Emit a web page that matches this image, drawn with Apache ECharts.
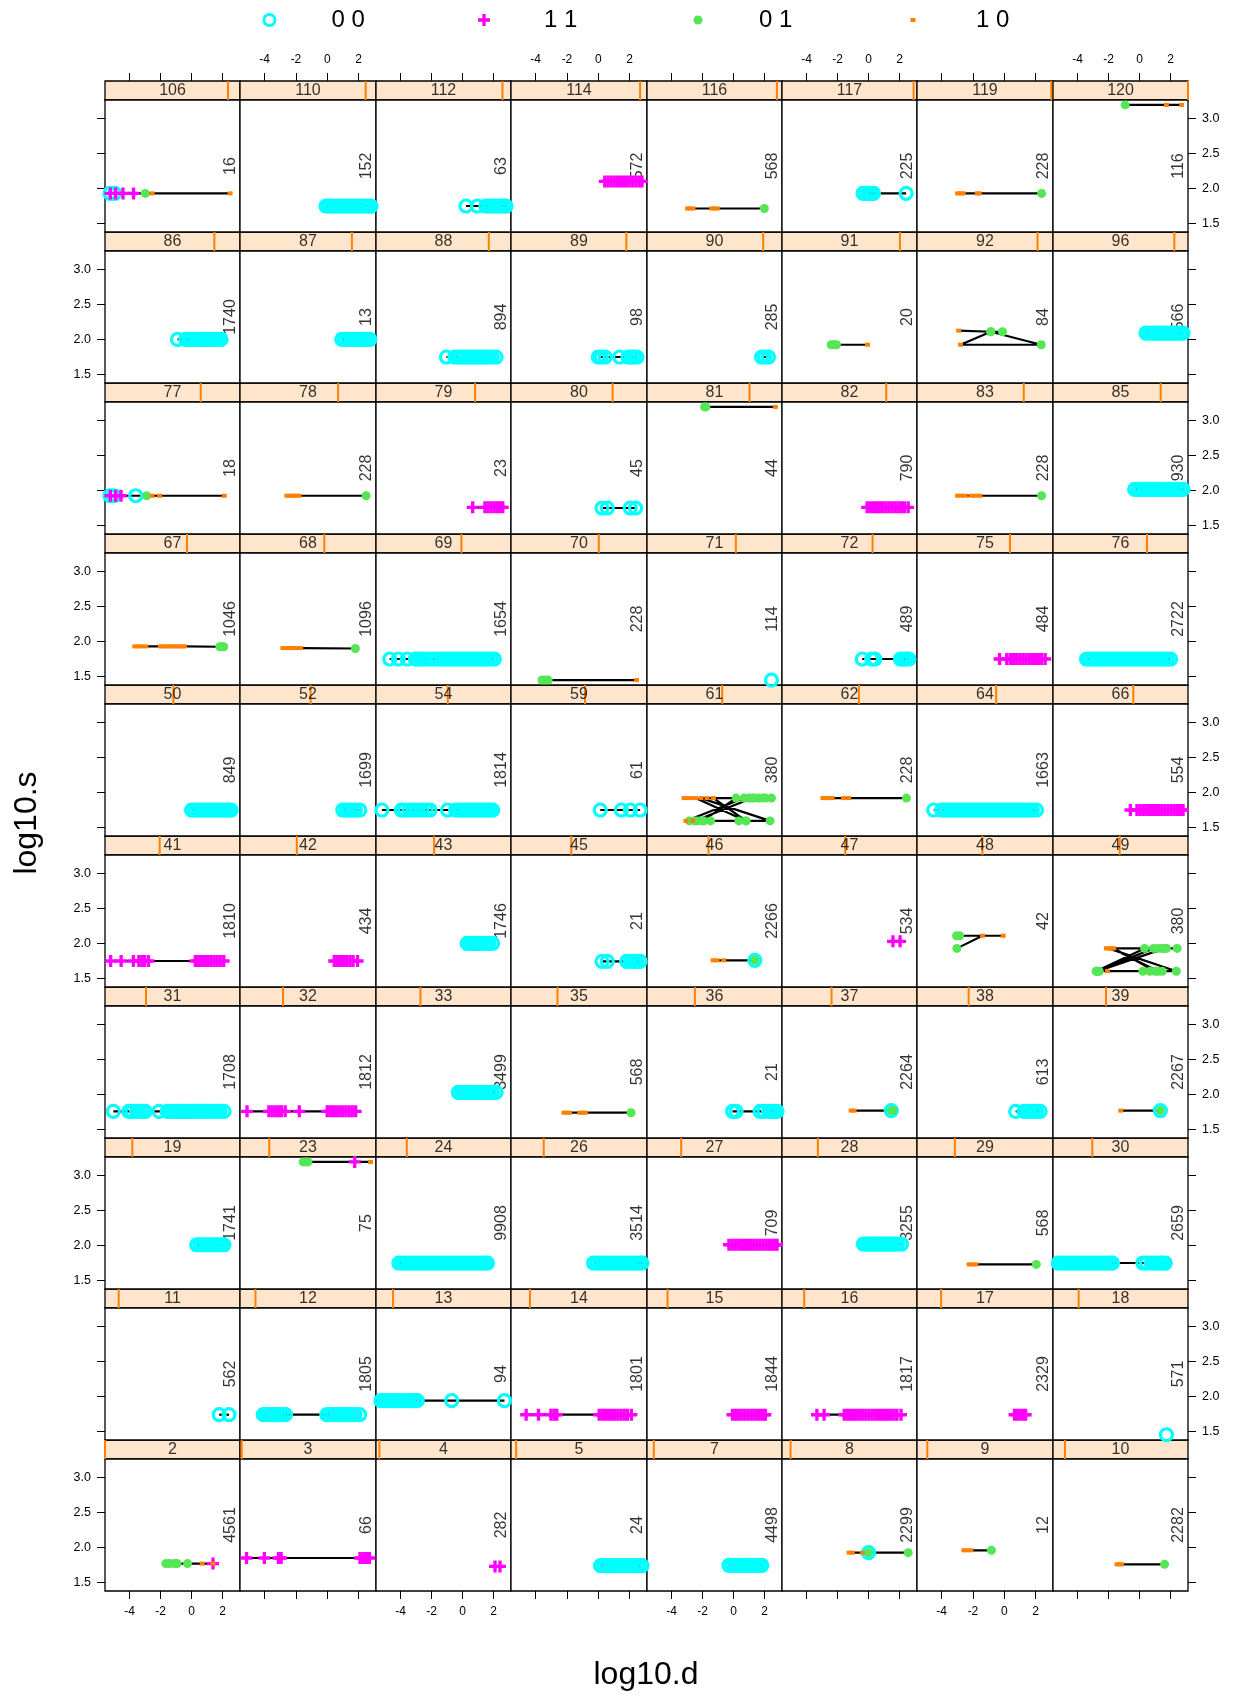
<!DOCTYPE html>
<html><head><meta charset="utf-8">
<script src="https://cdn.jsdelivr.net/npm/echarts@6/dist/echarts.min.js"></script>
<style>html,body{margin:0;padding:0;background:#fff}#c{width:1236px;height:1697px}</style>
</head><body><div id="c"></div>
<script>
// ---- data ----
const panelIds = [2,3,4,5,7,8,9,10, 11,12,13,14,15,16,17,18, 19,23,24,26,27,28,29,30, 31,32,33,35,36,37,38,39,
  41,42,43,45,46,47,48,49, 50,52,54,59,61,62,64,66, 67,68,69,70,71,72,75,76, 77,78,79,80,81,82,83,85,
  86,87,88,89,90,91,92,96, 106,110,112,114,116,117,119,120];
const panelCounts = [4561,66,282,24,4498,2299,12,2282, 562,1805,94,1801,1844,1817,2329,571, 1741,75,9908,3514,709,3255,568,2659,
  1708,1812,3499,568,21,2264,613,2267, 1810,434,1746,21,2266,534,42,380, 849,1699,1814,61,380,228,1663,554,
  1046,1096,1654,228,114,489,484,2722, 18,228,23,45,44,790,228,930, 1740,13,894,98,285,20,84,566, 16,152,63,572,568,225,228,116];
const groupNames = ['0 0','1 1','0 1','1 0'];
const xTicks = [-4,-2,0,2];
const yTicks = [1.5,2.0,2.5,3.0];
// each panel: runs of [group, log10.s, [log10.d ...]] in drawing (line) order
const p2 = [[2,1.77,[-1.66,-1.4,-1.1,-0.93,-0.26]],[3,1.77,[0.68]],[1,1.77,[1.38]],[3,1.77,[1.38]]];
const p3 = [[1,1.85,[-5.16,-4.02,-3.12,-2.95,2.1,2.3,2.5,2.7]]];
const p4 = [[1,1.73,[2.09,2.41]]];
const p5 = [[0,1.74,[0.15,0.35,0.55,0.75,0.95,1.15,1.35,1.55,1.75,1.95,2.15,2.35,2.55,2.75,2.8]]];
const p7 = [[0,1.745,[-0.3,-0.1,0.1,0.3,0.5,0.7,0.9,1.1,1.3,1.5,1.7,1.82]]];
const p8 = [[3,1.926,[-1.25,-1.05,-0.4]],[0,1.926,[0.0]],[2,1.926,[0.0,2.55]]];
const p9 = [[3,1.96,[-2.58,-2.4,-2.13]],[2,1.96,[-0.82]]];
const p10 = [[3,1.76,[-1.45,-1.3,-1.17]],[2,1.76,[1.61]]];
const p11 = [[0,1.74,[1.78,2.41]]];
const p12 = [[0,1.74,[-4.09,-3.89,-3.69,-3.49,-3.29,-3.09,-2.89,-2.67,-0.03,0.17,0.37,0.57,0.77,0.97,1.17,1.37,1.57,1.77,2.07]]];
const p13 = [[0,1.94,[-5.26,-5.06,-4.86,-4.66,-4.46,-4.26,-4.06,-3.86,-3.66,-3.46,-3.26,-3.06,-2.92,-0.7,2.7]]];
const p14 = [[1,1.74,[-4.61,-3.82,-3.03,-2.83,-2.65,0.06,0.26,0.46,0.66,0.86,1.06,1.26,1.46,1.66,1.86,2.12]]];
const p15 = [[1,1.74,[-0.07,0.13,0.33,0.53,0.73,0.93,1.13,1.33,1.53,1.73,1.93,2.05]]];
const p16 = [[1,1.74,[-3.33,-2.87,-1.57,-1.37,-1.17,-0.97,-0.77,-0.57,-0.37,-0.17,0.03,0.23,0.43,0.63,0.83,1.03,1.23,1.43,1.63,1.83,2.09]]];
const p17 = [[1,1.74,[0.66,0.86,1.06,1.22,1.37]]];
const p18 = [[0,1.455,[1.73]]];
const p19 = [[0,2.01,[0.33,0.53,0.73,0.93,1.13,1.33,1.53,1.73,1.93,2.09]]];
const p23 = [[2,3.19,[-1.54,-1.38,-1.23]],[1,3.19,[1.76]],[3,3.19,[2.77]]];
const p24 = [[0,1.75,[-4.11,-3.91,-3.71,-3.51,-3.31,-3.11,-2.91,-2.71,-2.51,-2.31,-2.11,-1.91,-1.71,-1.51,-1.31,-1.11,-0.91,-0.71,-0.51,-0.31,-0.11,0.09,0.29,0.49,0.69,0.89,1.09,1.29,1.49,1.6]]];
const p26 = [[0,1.75,[-0.3,-0.1,0.1,0.3,0.5,0.7,0.9,1.1,1.3,1.5,1.7,1.9,2.1,2.3,2.5,2.7,2.8]]];
const p27 = [[1,2.01,[-0.3,-0.1,0.1,0.3,0.5,0.7,0.9,1.1,1.3,1.5,1.7,1.9,2.1,2.3,2.5,2.7,2.8]]];
const p28 = [[0,2.02,[-0.34,-0.14,0.06,0.26,0.46,0.66,0.86,1.06,1.26,1.46,1.66,1.86,2.12]]];
const p29 = [[3,1.73,[-2.25,-2.05,-1.82]],[2,1.73,[2.05]]];
const p30 = [[0,1.75,[-5.24,-5.04,-4.84,-4.64,-4.44,-4.24,-4.04,-3.84,-3.64,-3.44,-3.24,-3.04,-2.84,-2.64,-2.44,-2.24,-2.04,-1.84,-1.75,0.21,0.45,0.75,0.95,1.15,1.35,1.5,1.66]]];
const p31 = [[0,1.76,[-5.04,-4.05,-3.84,-3.55,-3.35,-3.15,-2.98,-2.1,-1.57,-1.37,-1.17,-0.97,-0.77,-0.57,-0.37,-0.17,0.03,0.23,0.43,0.63,0.83,1.03,1.23,1.43,1.63,1.83,2.09]]];
const p32 = [[1,1.76,[-5.13,-3.73,-3.53,-3.33,-3.13,-2.93,-2.69,-1.79,0.0,0.2,0.4,0.6,0.8,1.0,1.2,1.4,1.6,1.82]]];
const p33 = [[0,2.03,[-0.28,-0.08,0.12,0.32,0.52,0.72,0.92,1.12,1.32,1.52,1.72,1.92,2.16]]];
const p35 = [[3,1.74,[-2.19,-2.0,-1.83,-1.18,-1.0,-0.82]],[2,1.74,[2.1]]];
const p36 = [[0,1.76,[-0.07,0.16,1.71,1.96,2.25,2.45,2.65,2.8]]];
const p37 = [[3,1.77,[-1.12,-0.93]],[0,1.77,[1.46]],[2,1.77,[1.46,1.56]]];
const p38 = [[0,1.76,[0.73,1.26,1.46,1.66,1.86,2.06,2.3]]];
const p39 = [[3,1.77,[-1.21]],[0,1.77,[1.34]],[2,1.77,[1.34]]];
const p41 = [[1,1.75,[-5.22,-4.54,-3.75,-3.4,-3.2,-3.03,-2.78,0.24,0.44,0.64,0.84,1.04,1.24,1.44,1.64,1.84,2.07]]];
const p42 = [[1,1.75,[0.45,0.65,0.85,1.05,1.25,1.45,1.65,1.94]]];
const p43 = [[0,2.0,[0.29,0.49,0.69,0.89,1.09,1.29,1.49,1.69,1.94]]];
const p45 = [[0,1.745,[0.24,0.58,1.82,2.05,2.25,2.45,2.68]]];
const p46 = [[3,1.76,[-1.32,-1.07,-0.64]],[0,1.76,[1.37]],[2,1.76,[1.37]]];
const p47 = [[1,2.03,[1.57,2.03]]];
const p48 = [[2,1.93,[-3.03]],[3,2.11,[-1.39,-0.07]],[2,2.11,[-2.85,-3.05]]];
const p49 = [[3,1.93,[-2.14,-1.9,-1.66]],[2,1.605,[1.0,0.21]],[3,1.605,[-2.07]],[2,1.605,[-2.6,-2.8]],
  [2,1.93,[0.32,1.19,1.45,1.73,2.42]],[3,1.93,[-2.0]],[2,1.605,[2.37,1.46,0.66,-2.7]],[2,1.93,[1.6]],
  [3,1.93,[-1.8]],[2,1.605,[1.2,-2.75]],[2,1.93,[0.9]]];
const p50 = [[0,1.75,[0.0,0.2,0.4,0.6,0.8,1.0,1.2,1.4,1.6,1.8,2.0,2.2,2.4,2.55]]];
const p52 = [[0,1.75,[0.99,1.2,1.4,1.6,1.8,2.08]]];
const p54 = [[0,1.75,[-5.2,-3.95,-3.73,-3.45,-3.2,-2.9,-2.62,-2.35,-2.1,-0.97,-0.45,-0.25,-0.05,0.15,0.35,0.55,0.75,0.95,1.15,1.35,1.55,1.75,1.94]]];
const p59 = [[0,1.75,[0.13,1.48,2.05,2.68]]];
const p61 = [[3,1.92,[-3.19,-2.95,-2.7,-2.45]],[2,1.595,[0.8,0.34,-1.48,-1.9,-2.3]],[3,1.595,[-2.62]],[2,1.595,[-2.85]],
  [3,1.595,[-3.07]],[2,1.92,[0.68,1.0,1.3,1.6,1.85,2.05,2.44]],[3,1.92,[-2.1]],[2,1.595,[2.35,-2.0]],
  [2,1.92,[0.16]],[3,1.92,[-1.71,-1.3]],[2,1.595,[0.8,-2.5]],[2,1.92,[1.2]]];
const p62 = [[3,1.92,[-2.94,-2.74,-2.54,-2.35,-1.62,-1.28]],[2,1.92,[2.44]]];
const p64 = [[0,1.75,[-4.51,-4.0,-3.8,-3.6,-3.4,-3.2,-3.0,-2.8,-2.6,-2.4,-2.2,-2.0,-1.8,-1.6,-1.4,-1.2,-1.0,-0.8,-0.6,-0.4,-0.2,0.0,0.2,0.4,0.6,0.8,1.0,1.2,1.4,1.6,1.8,2.07]]];
const p66 = [[1,1.75,[-0.59,-0.17,0.03,0.23,0.43,0.63,0.83,1.03,1.23,1.43,1.63,1.83,2.03,2.23,2.43,2.63,2.8]]];
const p67 = [[3,1.93,[-3.66,-3.45,-3.25,-2.95,-2.01,-1.81,-1.61,-1.41,-1.21,-1.01,-0.81,-0.61,-0.46]],[2,1.925,[1.82,1.95,2.07]]];
const p68 = [[3,1.906,[-2.83,-2.63,-2.43,-2.23,-2.01,-1.7]],[2,1.9,[1.8]]];
const p69 = [[0,1.75,[-4.7,-4.14,-3.57,-3.05,-2.85,-2.65,-2.45,-2.15,-1.88,-1.6,-1.35,-1.15,-0.95,-0.75,-0.55,-0.35,-0.15,0.05,0.25,0.45,0.65,0.85,1.05,1.25,1.45,1.65,1.85,2.05]]];
const p70 = [[2,1.45,[-3.6,-3.4,-3.2]],[3,1.45,[2.45]]];
const p71 = [[0,1.45,[2.44]]];
const p72 = [[0,1.75,[-0.41,0.2,0.4,2.05,2.25,2.45,2.6]]];
const p75 = [[1,1.75,[-0.3,0.16,0.39,0.6,0.8,1.0,1.2,1.4,1.6,1.8,2.0,2.2,2.4,2.62]]];
const p76 = [[0,1.75,[-3.42,-3.22,-3.02,-2.82,-2.62,-2.42,-2.22,-2.02,-1.82,-1.62,-1.42,-1.22,-1.02,-0.82,-0.62,-0.42,-0.22,-0.02,0.18,0.38,0.58,0.78,0.98,1.18,1.38,1.58,1.78,2.0]]];
const p77 = [[0,1.925,[-5.26,-5.0]],[1,1.925,[-5.23,-4.89,-4.55]],[0,1.925,[-3.6]],[2,1.925,[-2.9]],[3,1.925,[-2.56,-2.06,2.11]]];
const p78 = [[3,1.925,[-2.58,-2.4,-2.2,-2.0,-1.8]],[2,1.925,[2.49]]];
const p79 = [[1,1.76,[0.65,1.44,1.64,1.84,2.04,2.24,2.44,2.59]]];
const p80 = [[0,1.75,[0.24,0.58,2.05,2.39]]];
const p81 = [[2,3.19,[-1.87,-1.78]],[3,3.19,[2.69]]];
const p82 = [[1,1.76,[-0.09,0.11,0.31,0.51,0.71,0.91,1.11,1.31,1.51,1.71,1.91,2.11,2.31,2.55]]];
const p83 = [[3,1.925,[-2.98,-2.75,-2.5,-2.12,-1.85,-1.55]],[2,1.925,[2.39]]];
const p85 = [[0,2.016,[-0.32,-0.12,0.08,0.28,0.48,0.68,0.88,1.08,1.28,1.48,1.68,1.88,2.08,2.28,2.48,2.68,2.8]]];
const p86 = [[0,2.0,[-0.91,-0.38,-0.18,0.02,0.22,0.42,0.62,0.82,1.02,1.22,1.42,1.62,1.82,1.9]]];
const p87 = [[0,2.0,[0.93,1.13,1.33,1.53,1.73,1.93,2.13,2.33,2.53,2.73]]];
const p88 = [[0,1.75,[-1.04,-0.5,-0.3,-0.1,0.1,0.3,0.5,0.7,0.9,1.1,1.3,1.5,1.7,1.9,2.16]]];
const p89 = [[0,1.75,[0.0,0.2,0.45,1.37,1.9,2.1,2.3,2.48]]];
const p90 = [[0,1.75,[1.8,2.0,2.25]]];
const p91 = [[2,1.925,[-2.41,-2.24,-2.07]],[3,1.925,[-0.07]]];
const p92 = [[3,2.126,[-2.91]],[2,2.11,[-0.86]],[3,1.925,[-2.8]],[2,1.925,[2.37]],[2,2.11,[-0.86,-0.11]]];
const p96 = [[0,2.09,[0.41,0.61,0.81,1.01,1.21,1.41,1.61,1.81,2.01,2.21,2.41,2.61,2.8]]];
const p106 = [[0,1.93,[-5.26]],[1,1.93,[-5.23]],[0,1.93,[-4.95]],[1,1.93,[-4.89,-4.42,-3.74]],[2,1.93,[-2.99]],[3,1.93,[-2.54,2.48]]];
const p110 = [[0,1.75,[-0.08,0.12,0.32,0.52,0.72,0.92,1.12,1.32,1.52,1.72,1.92,2.12,2.32,2.52,2.72,2.8]]];
const p112 = [[0,1.75,[0.22,0.96,1.5,1.7,1.9,2.1,2.3,2.5,2.7,2.8]]];
const p114 = [[1,2.10,[0.42,0.62,0.82,1.02,1.22,1.42,1.62,1.82,2.02,2.22,2.42,2.62,2.8]]];
const p116 = [[3,1.715,[-2.96,-2.79,-2.62,-1.41,-1.23,-1.05]],[2,1.715,[1.98]]];
const p117 = [[0,1.93,[-0.36,-0.16,0.04,0.22,0.32,2.42]]];
const p119 = [[3,1.93,[-2.98,-2.8,-2.62,-1.73,-1.6]],[2,1.93,[2.39]]];
const p120 = [[2,3.19,[-0.93]],[3,3.19,[1.73,2.71]]];
const panelRuns = [p2,p3,p4,p5,p7,p8,p9,p10, p11,p12,p13,p14,p15,p16,p17,p18, p19,p23,p24,p26,p27,p28,p29,p30,
  p31,p32,p33,p35,p36,p37,p38,p39, p41,p42,p43,p45,p46,p47,p48,p49, p50,p52,p54,p59,p61,p62,p64,p66,
  p67,p68,p69,p70,p71,p72,p75,p76, p77,p78,p79,p80,p81,p82,p83,p85, p86,p87,p88,p89,p90,p91,p92,p96,
  p106,p110,p112,p114,p116,p117,p119,p120];

// ---- layout / style ----
const NCOL = 8, NROW = 10, N = panelIds.length;
const L0 = 105, T0 = 80.7, W = 1083, H = 1510, STRIP_H = 19.3;
const colW = W / NCOL, rowH = H / NROW;
const X_MIN = -5.58, X_MAX = 3.12, Y_MIN = 1.38, Y_MAX = 3.26;
const PLUS = 'path://M13,0H23V13H36V23H23V36H13V23H0V13H13Z';
const gStyle = [
  {symbol:'circle', symbolSize:12, itemStyle:{color:'rgba(0,0,0,0)', borderColor:'#00FFFF', borderWidth:3.2, opacity:1}},
  {symbol:PLUS, symbolSize:12, itemStyle:{color:'#FF00FF', opacity:1}},
  {symbol:'circle', symbolSize:9, itemStyle:{color:'#55E655', opacity:1}},
  {symbol:'rect', symbolSize:[5,4], itemStyle:{color:'#FF7F00', opacity:1}}
];
const FONT = "'Liberation Sans', Arial, Helvetica, sans-serif";

const grids = [], xAxes = [], yAxes = [], series = [];
const tickStyle = {color:'#000', width:1};
panelIds.forEach((id, k) => {
  const c = k % NCOL, r = NROW - 1 - Math.floor(k / NCOL);
  const left = Math.round(L0 + c * colW), right = Math.round(L0 + (c + 1) * colW);
  const top = Math.round(T0 + r * rowH), bottom = Math.round(T0 + (r + 1) * rowH);
  const sb = Math.round(T0 + r * rowH + STRIP_H);
  // strip
  const gs = grids.length;
  grids.push({left, top, width:right-left, height:sb-top, show:true, backgroundColor:'#FFE5CC', borderColor:'#000', borderWidth:1.3});
  const xs = xAxes.length; xAxes.push({gridIndex:gs, type:'value', min:0, max:1, show:false, position:'bottom'});
  const ys = yAxes.length; yAxes.push({gridIndex:gs, type:'value', min:0, max:1, show:false});
  const frac = k / (N - 1);
  series.push({type:'line', xAxisIndex:xs, yAxisIndex:ys, data:[[frac,0],[frac,1]], symbol:'none', silent:true, z:2,
    lineStyle:{color:'#FF7F00', width:2}});
  series.push({type:'scatter', xAxisIndex:xs, yAxisIndex:ys, data:[[0.5,0.5]], symbolSize:0, silent:true, z:3,
    label:{show:true, position:'inside', formatter:String(id), fontSize:16, color:'#000', fontFamily:FONT}});
  if (r === 0) {
    xAxes.push({gridIndex:gs, type:'value', position:'top', min:X_MIN, max:X_MAX,
      axisLine:{show:false, onZero:false}, splitLine:{show:false},
      axisTick:{show:true, customValues:xTicks, length:8, lineStyle:tickStyle},
      axisLabel:{show:c % 2 === 1, customValues:xTicks, margin:15, fontSize:12, color:'#000', fontFamily:FONT}});
  }
  // panel
  const gp = grids.length;
  grids.push({left, top:sb, width:right-left, height:bottom-sb, show:true, backgroundColor:'#fff', borderColor:'#000', borderWidth:1.3});
  const xp = xAxes.length;
  xAxes.push({gridIndex:gp, type:'value', position:'bottom', min:X_MIN, max:X_MAX,
    axisLine:{show:false, onZero:false}, splitLine:{show:false},
    axisTick:{show:r === NROW-1, customValues:xTicks, length:8, lineStyle:tickStyle},
    axisLabel:{show:r === NROW-1 && c % 2 === 0, customValues:xTicks, margin:15, fontSize:12, color:'#000', fontFamily:FONT}});
  const yp = yAxes.length;
  const side = c === 0 || c === NCOL - 1;
  yAxes.push({gridIndex:gp, type:'value', position:c === NCOL-1 ? 'right' : 'left', min:Y_MIN, max:Y_MAX,
    axisLine:{show:false, onZero:false}, splitLine:{show:false},
    axisTick:{show:side, customValues:yTicks, length:8, lineStyle:tickStyle},
    axisLabel:{show:(c === 0 && r % 2 === 1) || (c === NCOL-1 && r % 2 === 0), customValues:yTicks, margin:14,
      fontSize:12.5, color:'#000', fontFamily:FONT, formatter:v => v.toFixed(1)}});
  // count label
  series.push({type:'scatter', xAxisIndex:xp, yAxisIndex:yp, data:[[2.54, (Y_MIN+Y_MAX)/2]], symbolSize:0, silent:true, z:1,
    label:{show:true, position:'inside', rotate:90, formatter:String(panelCounts[k]), fontSize:16, color:'#000', fontFamily:FONT}});
  // points
  const pts = [];
  panelRuns[k].forEach(([g, y, xsArr]) => xsArr.forEach(x => pts.push([x, y, g])));
  series.push({type:'line', xAxisIndex:xp, yAxisIndex:yp, data:pts.map(p => [p[0], p[1]]), symbol:'none', silent:true, z:2,
    lineStyle:{color:'#000', width:2.2}});
  [0,1,2,3].forEach(g => {
    const d = pts.filter(p => p[2] === g).map(p => [p[0], p[1]]);
    if (!d.length) return;
    series.push(Object.assign({type:'scatter', name:groupNames[g], xAxisIndex:xp, yAxisIndex:yp, data:d, silent:true, z:3+g}, gStyle[g]));
  });
});

const legendPos = [262.5, 478, 693.5, 910.5];
const legendPad = [51.5, 49, 51.5, 55.5];
const legendSize = [[11,11],[12,12],[9,9],[5,4]];
const legendIcon = ['circle', PLUS, 'circle', 'rect'];
const legends = groupNames.map((nm, g) => ({
  left:legendPos[g], top:8, padding:0, selectedMode:false, itemWidth:legendSize[g][0], itemHeight:legendSize[g][1],
  data:[{name:nm, icon:legendIcon[g], itemStyle:Object.assign({}, gStyle[g].itemStyle, g === 0 ? {borderWidth:3} : {})}],
  textStyle:{fontSize:24, color:'#000', fontFamily:FONT, padding:[0,0,0,legendPad[g]]}
}));

const chart = echarts.init(document.getElementById('c'), null, {renderer:'canvas'});
chart.setOption({
  animation:false,
  backgroundColor:'#fff',
  textStyle:{fontFamily:FONT},
  legend:legends,
  grid:grids, xAxis:xAxes, yAxis:yAxes, series:series,
  graphic:[
    {type:'text', x:27, y:823, rotation:Math.PI/2, style:{text:'log10.s', fill:'#000', font:"32px 'Liberation Sans', Arial, sans-serif", textAlign:'center', textVerticalAlign:'middle'}},
    {type:'text', x:646, y:1675, style:{text:'log10.d', fill:'#000', font:"32px 'Liberation Sans', Arial, sans-serif", textAlign:'center', textVerticalAlign:'middle'}}
  ]
});
</script>
</body></html>
